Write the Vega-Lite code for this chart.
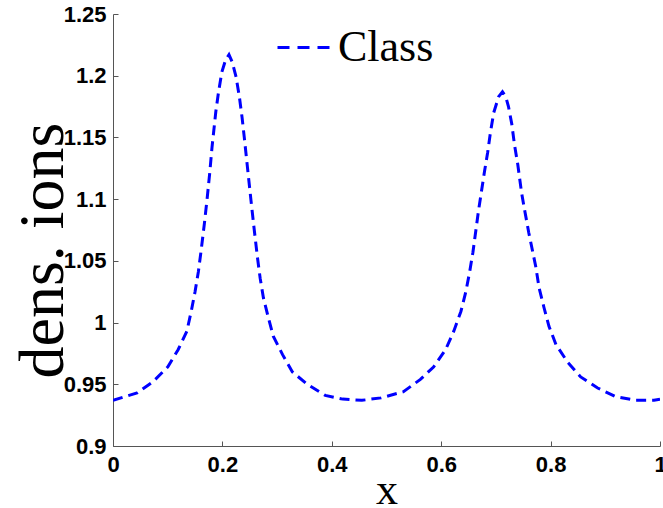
{
  "$schema": "https://vega.github.io/schema/vega-lite/v6.json",
  "width": 547,
  "height": 432,
  "autosize": "none",
  "padding": {"left": 113, "top": 14, "right": 3, "bottom": 62},
  "background": "white",
  "config": {"view": {"stroke": null}},
  "data": {"values": [
    {"x": 0, "y": 0.937, "s": "Class"},
    {"x": 0.044, "y": 0.943, "s": "Class"},
    {"x": 0.073, "y": 0.952, "s": "Class"},
    {"x": 0.1, "y": 0.964, "s": "Class"},
    {"x": 0.119, "y": 0.978, "s": "Class"},
    {"x": 0.135, "y": 0.993, "s": "Class"},
    {"x": 0.143, "y": 1.009, "s": "Class"},
    {"x": 0.15, "y": 1.025, "s": "Class"},
    {"x": 0.156, "y": 1.041, "s": "Class"},
    {"x": 0.161, "y": 1.058, "s": "Class"},
    {"x": 0.167, "y": 1.08, "s": "Class"},
    {"x": 0.172, "y": 1.1, "s": "Class"},
    {"x": 0.177, "y": 1.122, "s": "Class"},
    {"x": 0.181, "y": 1.142, "s": "Class"},
    {"x": 0.188, "y": 1.171, "s": "Class"},
    {"x": 0.193, "y": 1.187, "s": "Class"},
    {"x": 0.199, "y": 1.203, "s": "Class"},
    {"x": 0.206, "y": 1.213, "s": "Class"},
    {"x": 0.212, "y": 1.217, "s": "Class"},
    {"x": 0.218, "y": 1.211, "s": "Class"},
    {"x": 0.225, "y": 1.199, "s": "Class"},
    {"x": 0.231, "y": 1.183, "s": "Class"},
    {"x": 0.236, "y": 1.166, "s": "Class"},
    {"x": 0.24, "y": 1.15, "s": "Class"},
    {"x": 0.246, "y": 1.125, "s": "Class"},
    {"x": 0.252, "y": 1.1, "s": "Class"},
    {"x": 0.258, "y": 1.076, "s": "Class"},
    {"x": 0.264, "y": 1.053, "s": "Class"},
    {"x": 0.269, "y": 1.036, "s": "Class"},
    {"x": 0.275, "y": 1.02, "s": "Class"},
    {"x": 0.284, "y": 1.004, "s": "Class"},
    {"x": 0.293, "y": 0.989, "s": "Class"},
    {"x": 0.31, "y": 0.974, "s": "Class"},
    {"x": 0.328, "y": 0.96, "s": "Class"},
    {"x": 0.355, "y": 0.95, "s": "Class"},
    {"x": 0.388, "y": 0.941, "s": "Class"},
    {"x": 0.42, "y": 0.938, "s": "Class"},
    {"x": 0.455, "y": 0.937, "s": "Class"},
    {"x": 0.49, "y": 0.939, "s": "Class"},
    {"x": 0.531, "y": 0.944, "s": "Class"},
    {"x": 0.562, "y": 0.954, "s": "Class"},
    {"x": 0.586, "y": 0.964, "s": "Class"},
    {"x": 0.608, "y": 0.978, "s": "Class"},
    {"x": 0.623, "y": 0.993, "s": "Class"},
    {"x": 0.636, "y": 1.009, "s": "Class"},
    {"x": 0.645, "y": 1.025, "s": "Class"},
    {"x": 0.652, "y": 1.041, "s": "Class"},
    {"x": 0.658, "y": 1.057, "s": "Class"},
    {"x": 0.668, "y": 1.09, "s": "Class"},
    {"x": 0.679, "y": 1.122, "s": "Class"},
    {"x": 0.685, "y": 1.138, "s": "Class"},
    {"x": 0.69, "y": 1.154, "s": "Class"},
    {"x": 0.696, "y": 1.17, "s": "Class"},
    {"x": 0.705, "y": 1.183, "s": "Class"},
    {"x": 0.712, "y": 1.187, "s": "Class"},
    {"x": 0.718, "y": 1.183, "s": "Class"},
    {"x": 0.723, "y": 1.175, "s": "Class"},
    {"x": 0.729, "y": 1.161, "s": "Class"},
    {"x": 0.734, "y": 1.144, "s": "Class"},
    {"x": 0.74, "y": 1.128, "s": "Class"},
    {"x": 0.747, "y": 1.105, "s": "Class"},
    {"x": 0.753, "y": 1.09, "s": "Class"},
    {"x": 0.76, "y": 1.073, "s": "Class"},
    {"x": 0.767, "y": 1.058, "s": "Class"},
    {"x": 0.773, "y": 1.045, "s": "Class"},
    {"x": 0.779, "y": 1.028, "s": "Class"},
    {"x": 0.788, "y": 1.012, "s": "Class"},
    {"x": 0.797, "y": 0.997, "s": "Class"},
    {"x": 0.81, "y": 0.982, "s": "Class"},
    {"x": 0.831, "y": 0.968, "s": "Class"},
    {"x": 0.855, "y": 0.956, "s": "Class"},
    {"x": 0.886, "y": 0.947, "s": "Class"},
    {"x": 0.919, "y": 0.94, "s": "Class"},
    {"x": 0.956, "y": 0.937, "s": "Class"},
    {"x": 0.989, "y": 0.937, "s": "Class"},
    {"x": 1.0, "y": 0.938, "s": "Class"}
  ]},
  "mark": {"type": "line", "strokeWidth": 3, "strokeDash": [10, 6], "clip": true},
  "encoding": {
    "x": {
      "field": "x", "type": "quantitative",
      "scale": {"domain": [0, 1], "nice": false, "zero": false},
      "axis": {
        "values": [0, 0.2, 0.4, 0.6, 0.8, 1],
        "format": "~g",
        "grid": false,
        "tickSize": -5, "tickColor": "#555", "domainColor": "#555", "domainWidth": 1,
        "labelFont": "Liberation Sans", "labelFontWeight": "bold", "labelFontSize": 22, "labelColor": "black",
        "labelPadding": 13, "labelFlush": false, "labelOverlap": false,
        "title": "x", "titleFont": "Liberation Serif", "titleFontWeight": "normal", "titleFontSize": 44,
        "titleColor": "black", "titleBaseline": "alphabetic", "titleY": 57
      }
    },
    "y": {
      "field": "y", "type": "quantitative",
      "scale": {"domain": [0.9, 1.25], "nice": false, "zero": false},
      "axis": {
        "values": [0.9, 0.95, 1, 1.05, 1.1, 1.15, 1.2, 1.25],
        "format": "~g",
        "grid": false,
        "tickSize": -5, "tickColor": "#555", "domainColor": "#555", "domainWidth": 1,
        "labelFont": "Liberation Sans", "labelFontWeight": "bold", "labelFontSize": 22, "labelColor": "black",
        "labelPadding": 12, "labelFlush": false, "labelOverlap": false,
        "title": "dens. ions", "titleFont": "Liberation Serif", "titleFontWeight": "normal", "titleFontSize": 64,
        "titleColor": "black", "titleBaseline": "alphabetic", "titleX": -51, "titleY": 236, "titleAngle": 270
      }
    },
    "color": {
      "field": "s", "type": "nominal",
      "scale": {"range": ["#0000ff"]},
      "legend": {
        "title": null,
        "orient": "none", "legendX": 163, "legendY": 6,
        "padding": 0,
        "symbolType": "stroke", "symbolSize": 2704, "symbolStrokeWidth": 3, "symbolDash": [12, 8],
        "labelFont": "Liberation Serif", "labelFontSize": 44, "labelColor": "black", "labelOffset": 7,
        "labelLimit": 300
      }
    }
  }
}
